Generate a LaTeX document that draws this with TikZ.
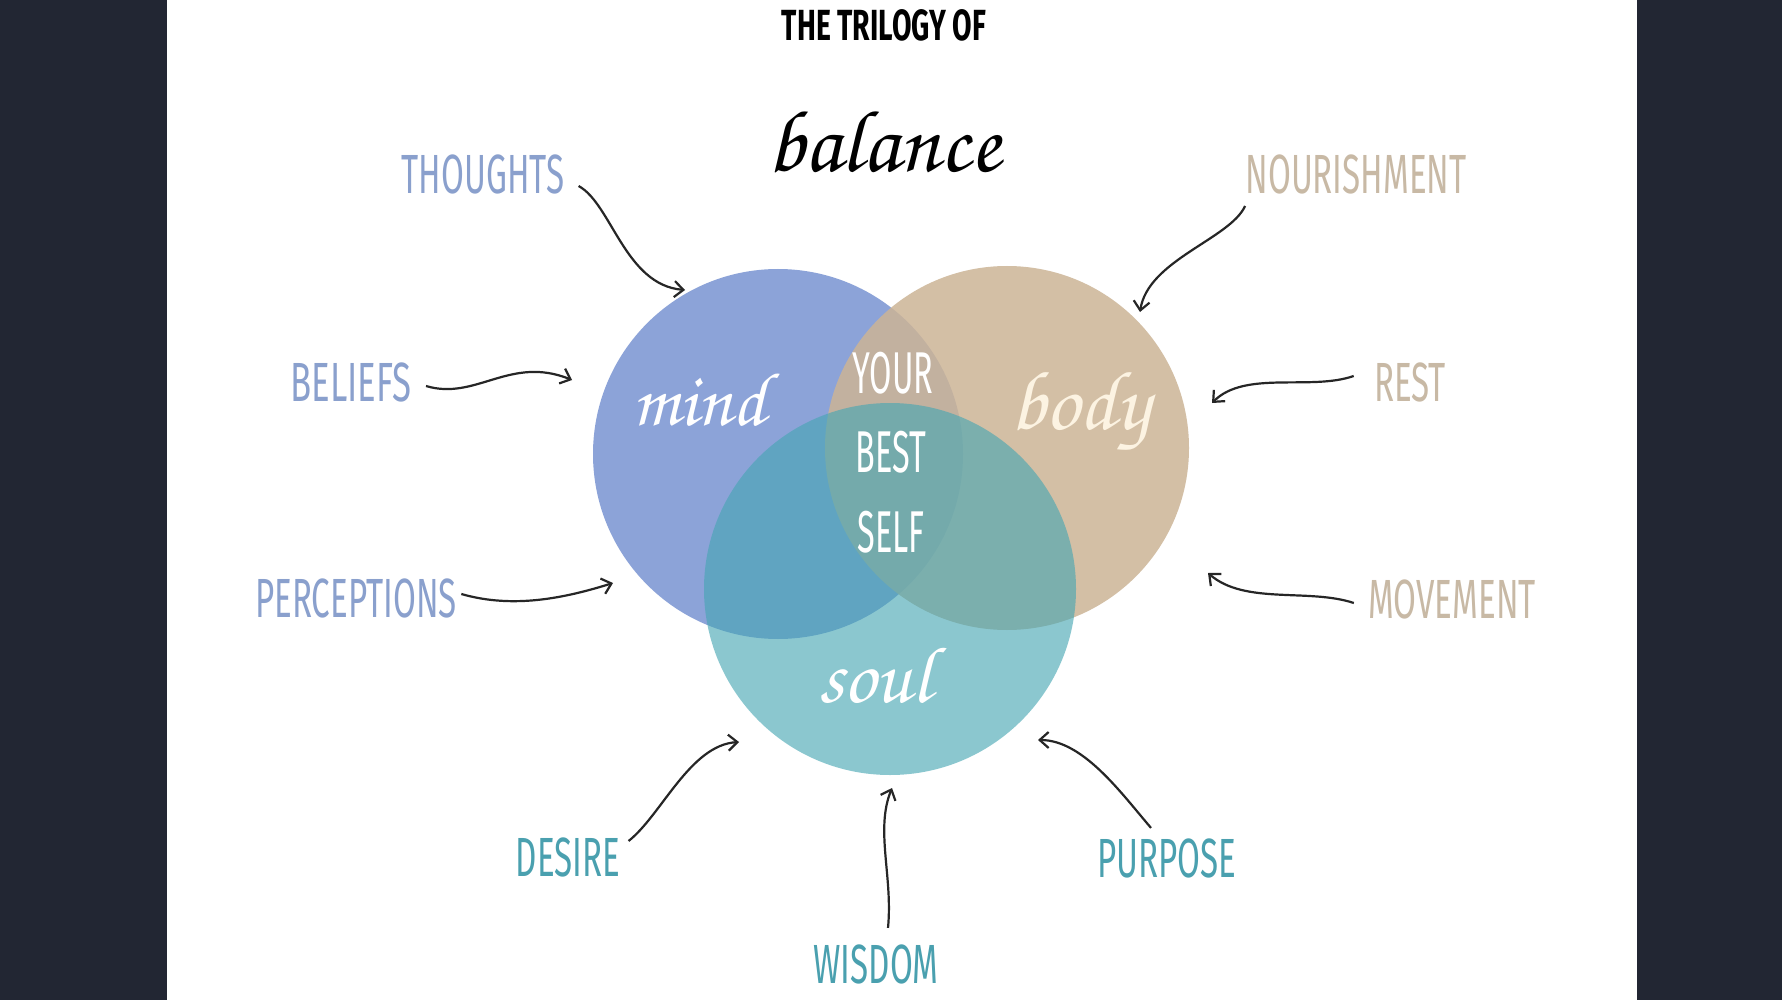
\documentclass[tikz,border=0pt]{standalone}
\usepackage{fontspec}
\usepackage{graphicx}
\usetikzlibrary{arrows.meta}
\newfontfamily\labelfont{Fira Sans}
\newfontfamily\handfont{texgyrechorus-mediumitalic.otf}
\definecolor{darkbg}{RGB}{34,38,51}
\definecolor{mindc}{RGB}{140,163,216}
\definecolor{bodyc}{RGB}{204,180,150}
\definecolor{soulc}{RGB}{69,166,179}
\definecolor{mindtxt}{RGB}{138,160,205}
\definecolor{bodytxt}{RGB}{200,185,165}
\definecolor{soultxt}{RGB}{74,160,175}
\definecolor{cream}{RGB}{252,243,226}
\newcommand{\tall}[1]{\scalebox{0.6}[1]{#1}}

\begin{document}
\begin{tikzpicture}[x=0.5pt,y=-0.5pt,
  lab/.style={inner sep=0pt, font=\labelfont\fontsize{27.6}{28}\selectfont},
  mid/.style={inner sep=0pt, text=white, font=\labelfont\fontsize{29.5}{30}\selectfont},
  hand/.style={inner sep=0pt, font=\handfont\fontsize{42}{42}\selectfont},
  ring/.style={circle, inner sep=0pt},
  arr/.style={-{Straight Barb[length=4.5pt,width=8pt]}, line width=1.1pt, color=black!85}]
\useasboundingbox (0,0) rectangle (1782,1000);
% page and dark margins
\fill[darkbg] (0,0) rectangle (1782,1000);
\fill[white] (167,0) rectangle (1637,1000);

% Title
\node[lab, font=\labelfont\bfseries\fontsize{21.8}{22}\selectfont] (title) at (884,25) {\scalebox{0.65}[1]{THE TRILOGY OF}};
\node[hand, font=\handfont\fontsize{44}{44}\selectfont] (balance) at (884,142) {balance};

% Circles
\node[ring, fill=mindc, minimum size=185pt] (mind) at (778,454) {};
\node[ring, fill=bodyc, fill opacity=0.85, minimum size=182pt] (body) at (1007,448) {};
\node[ring, fill=soulc, fill opacity=0.62, minimum size=186pt] (soul) at (890,589) {};

% Circle words
\node[hand, text=white, font=\handfont\fontsize{38}{38}\selectfont] (mindw) at (699,400) {mind};
\node[hand, text=cream] (bodyw) at (1080,411) {body};
\node[hand, text=white, font=\handfont\fontsize{40}{40}\selectfont] (soulw) at (875,676) {soul};
\node[mid] (your) at (893,373) {\scalebox{0.55}[1]{YOUR}};
\node[mid] (best) at (891,452) {\scalebox{0.55}[1]{BEST}};
\node[mid] (self) at (891,532) {\scalebox{0.55}[1]{SELF}};

% Mind labels
\node[lab, text=mindtxt] (thoughts) at (483,174) {\tall{THOUGHTS}};
\node[lab, text=mindtxt] (beliefs) at (351,382) {\scalebox{0.63}[1]{BELIEFS}};
\node[lab, text=mindtxt] (perceptions) at (356,598) {\tall{PERCEPTIONS}};
% Body labels
\node[lab, text=bodytxt] (nourishment) at (1356,174) {\tall{NOURISHMENT}};
\node[lab, text=bodytxt] (rest) at (1410,382) {\tall{REST}};
\node[lab, text=bodytxt] (movement) at (1452,599) {\tall{MOVEMENT}};
% Soul labels
\node[lab, text=soultxt] (desire) at (568,857) {\tall{DESIRE}};
\node[lab, text=soultxt] (wisdom) at (876,964) {\tall{WISDOM}};
\node[lab, text=soultxt] (purpose) at (1167,858) {\tall{PURPOSE}};

% Arrow tips
\coordinate (thoughtsTip) at (685,290);
\coordinate (beliefsTip) at (572,380);
\coordinate (perceptionsTip) at (613,583);
\coordinate (nourishmentTip) at (1140,312);
\coordinate (restTip) at (1212,403);
\coordinate (movementTip) at (1208,573);
\coordinate (desireTip) at (739,742);
\coordinate (wisdomTip) at (892,788);
\coordinate (purposeTip) at (1038,740);

% Arrows
\draw[arr] ([xshift=7pt,yshift=-6pt]thoughts.east) .. controls +(33,18) and +(-60,-5) .. (thoughtsTip);
\draw[arr] ([xshift=7pt,yshift=-2pt]beliefs.east) .. controls +(50,15) and +(-62,-25) .. (beliefsTip);
\draw[arr] ([xshift=2pt,yshift=2pt]perceptions.east) .. controls +(52,15) and +(-48,15) .. (perceptionsTip);
\draw[arr] ([xshift=0pt,yshift=-16pt]nourishment.west) .. controls +(-15,33) and +(8,-52) .. (nourishmentTip);
\draw[arr] ([xshift=-10pt,yshift=3pt]rest.west) .. controls +(-43,15) and +(33,-33) .. (restTip);
\draw[arr] ([xshift=-7pt,yshift=-2pt]movement.west) .. controls +(-45,-15) and +(37,32) .. (movementTip);
\draw[arr] ([xshift=4pt,yshift=8pt]desire.east) .. controls +(33,-26) and +(-49,3) .. (desireTip);
\draw[arr] ([xshift=6pt,yshift=8pt]wisdom.north) .. controls +(5,-52) and +(-17,42) .. (wisdomTip);
\draw[arr] ([xshift=-8pt,yshift=5pt]purpose.north) .. controls +(-30,-35) and +(45,0) .. (purposeTip);
\end{tikzpicture}
\end{document}
